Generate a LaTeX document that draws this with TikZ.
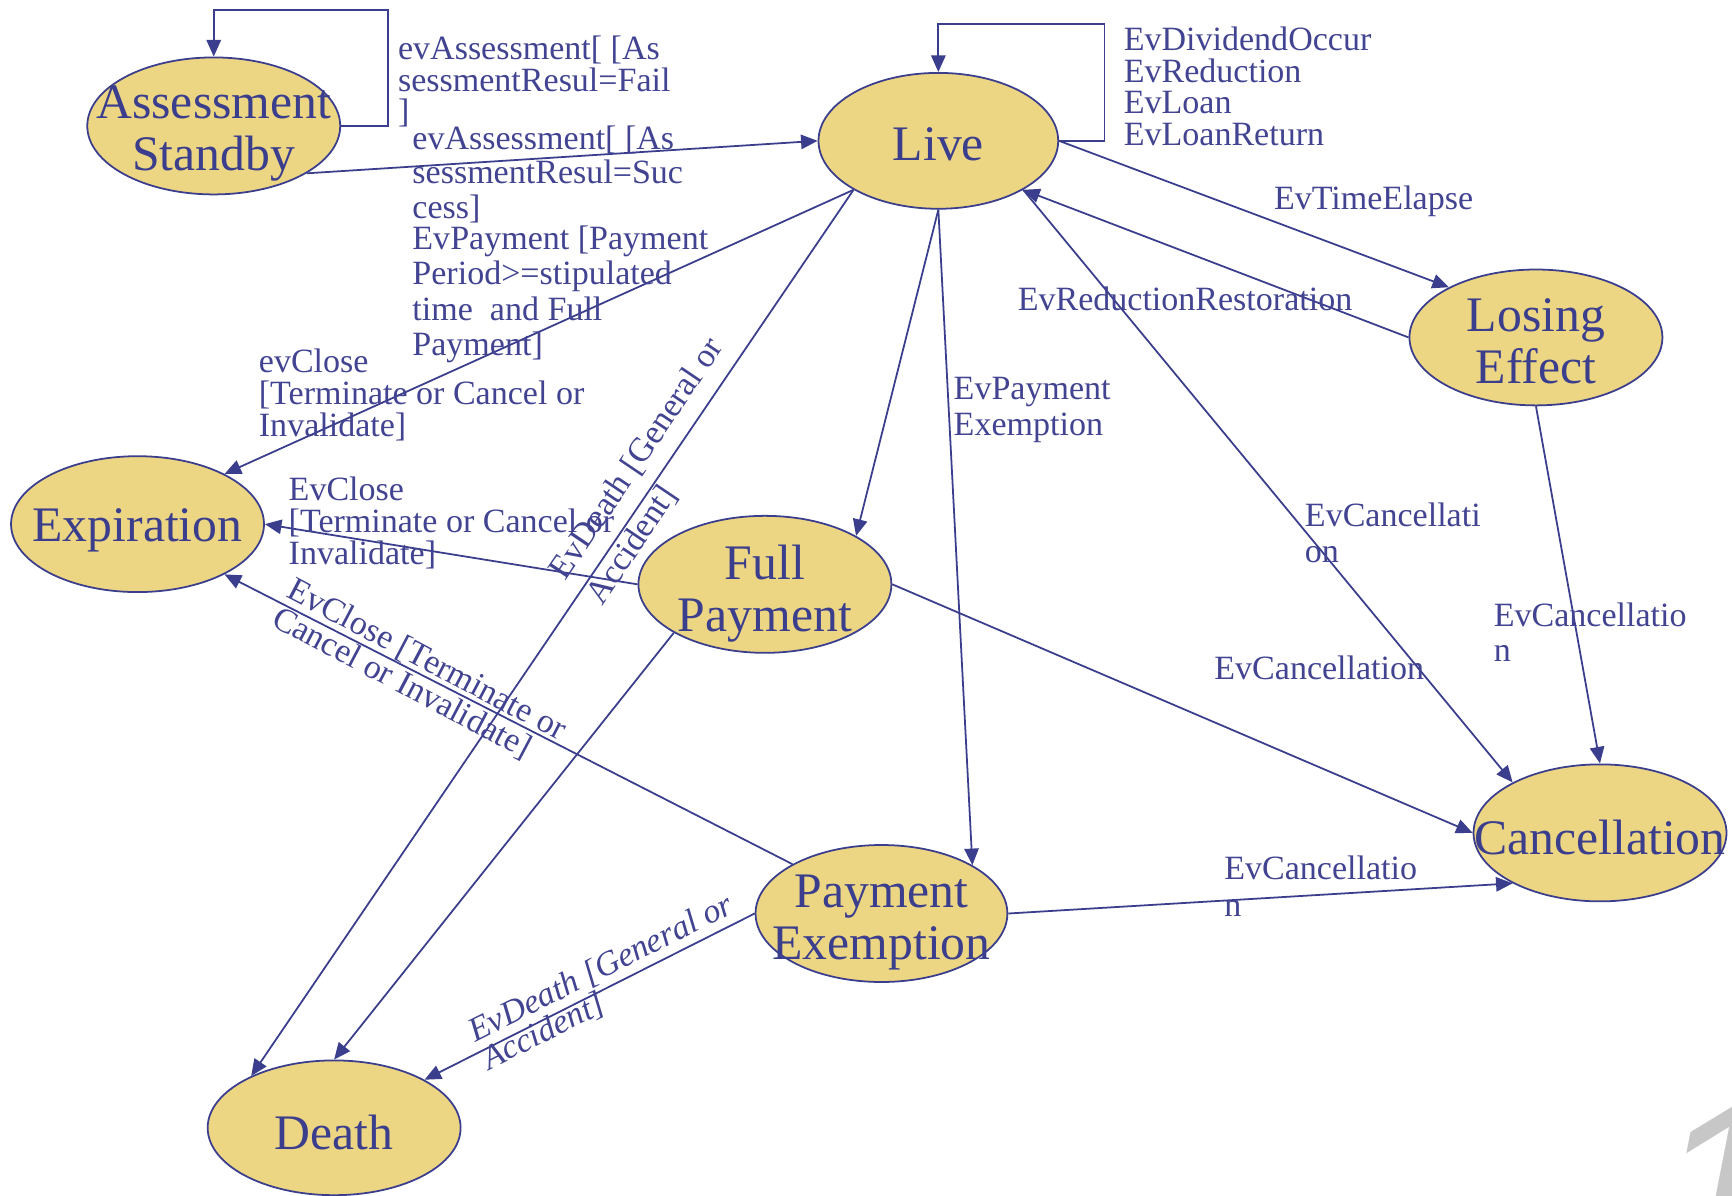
\documentclass[tikz,border=0pt]{standalone}
\usepackage{fontspec}
\setmainfont{Liberation Serif}
\setsansfont{Liberation Sans}
\usetikzlibrary{shapes.geometric,arrows.meta}
\definecolor{lc}{RGB}{58,62,140}
\definecolor{tc}{RGB}{66,68,146}
\definecolor{sf}{RGB}{236,214,131}
\newcommand{\mlab}[2][14.5pt]{\vtop{\baselineskip=#1\lineskiplimit=-20pt\halign{##\hfil\cr#2\crcr}}}
\tikzset{
  state/.style={ellipse, draw=lc, fill=sf, line width=0.8pt, inner sep=0pt},
  stext/.style={font=\fontsize{22.5}{23.5}\selectfont, text=lc, align=center, inner sep=0pt},
  lbl/.style={font=\fontsize{15.4}{14.5}\selectfont, text=tc, inner sep=0pt, anchor=base west},
  conn/.style={draw=lc, line width=0.8pt, -{Triangle[length=7.5pt,width=6.5pt]}}
}
\begin{document}
\begin{tikzpicture}[x=0.5pt,y=-0.5pt]
\useasboundingbox (0,0) rectangle (1568,1082);
\clip (0,0) rectangle (1568,1082);
\fill[white] (0,0) rectangle (1568,1082);

% states
\node[state, minimum width=114.5pt, minimum height=62pt] (AS) at (193.5,114) {};
\node[state, minimum width=108.5pt, minimum height=61.5pt] (LV) at (849.5,127.5) {};
\node[state, minimum width=114.5pt, minimum height=61.5pt] (LE) at (1390.5,305.5) {};
\node[state, minimum width=114.5pt, minimum height=61.5pt] (EX) at (124.5,474.5) {};
\node[state, minimum width=114.5pt, minimum height=62pt] (FP) at (692.5,529) {};
\node[state, minimum width=114.5pt, minimum height=62pt] (CA) at (1448.5,754) {};
\node[state, minimum width=114pt, minimum height=62pt] (PE) at (798,827) {};
\node[state, minimum width=114.5pt, minimum height=61pt] (DE) at (302.5,1021) {};

% connectors
\coordinate (ASloop) at (351,9);
\coordinate (LVloop) at (1000,22);
\draw[conn] (AS.east) -| (ASloop) -| (AS.north);
\draw[conn] (AS.-27.8) -- (LV.west);
\draw[conn] (LV.east) -| (LVloop) -| (LV.north);
\draw[conn] (LV.east) -- (LE.150);
\draw[conn] (LE.west) -- (LV.-30);
\draw[conn] (LV.-30) -- (CA.150);
\draw[conn] (LE.south) -- (CA.north);
\draw[conn] (LV.210) -- (EX.30);
\draw[conn] (LV.210) -- (DE.148);
\draw[conn] (LV.south) -- (FP.28);
\draw[conn] (LV.south) -- (PE.28.5);
\draw[conn] (FP.west) -- (EX.east);
\draw[conn] (FP.208) -- (DE.north);
\draw[conn] (FP.east) -- (CA.west);
\draw[conn] (PE.151.8) -- (EX.-30);
\draw[conn] (PE.west) -- (DE.28);
\draw[conn] (PE.east) -- (CA.210);

% state texts
\node[stext, yshift=-3.5pt] (AS-t) at (AS) {Assessment\\Standby};
\node[stext, yshift=-1.5pt] (LV-t) at (LV) {Live};
\node[stext, yshift=-1.8pt] (LE-t) at (LE) {Losing\\Effect};
\node[stext, yshift=-3pt] (EX-t) at (EX) {Expiration};
\node[stext, yshift=-4pt] (FP-t) at (FP) {Full\\Payment};
\node[stext, yshift=-2pt] (CA-t) at (CA) {Cancellation};
\node[stext, yshift=-4pt] (PE-t) at (PE) {Payment\\Exemption};
\node[stext, yshift=-2pt] (DE-t) at (DE) {Death};

% labels
\node[lbl] (l1) at (360,54) {\mlab[14.25pt]{evAssessment[ [As\cr sessmentResul=Fail\cr ]}};
\node[lbl] (l2) at (373,135) {\mlab[15.75pt]{evAssessment[ [As\cr sessmentResul=Suc\cr cess]}};
\node[lbl] (l3) at (373,226) {\mlab[16pt]{EvPayment [Payment\cr Period>=stipulated\cr time\ \ and Full\cr Payment]}};
\node[lbl] (l4) at (234,337) {\mlab{evClose\cr [Terminate or Cancel or\cr Invalidate]}};
\node[lbl] (l5) at (261,453) {\mlab{EvClose\cr [Terminate or Cancel or\cr Invalidate]}};
\node[lbl] (l6) at (1017,46) {\mlab[14.3pt]{EvDividendOccur\cr EvReduction\cr EvLoan\cr EvLoanReturn}};
\node[lbl] (l7) at (1153,190) {EvTimeElapse};
\node[lbl] (l8) at (921,281) {EvReductionRestoration};
\node[lbl] (l9) at (863,362) {\mlab[16pt]{EvPayment\cr Exemption}};
\node[lbl] (l10) at (1181,477) {\mlab[16pt]{EvCancellati\cr on}};
\node[lbl] (l11) at (1352,567) {\mlab[16pt]{EvCancellatio\cr n}};
\node[lbl] (l12) at (1099,615) {EvCancellation};
\node[lbl] (l13) at (1108,796) {\mlab[17pt]{EvCancellatio\cr n}};
\node[lbl, rotate=56] (l14) at (512,527) {\mlab[20pt]{EvDeath [General or\cr Accident]}};
\node[lbl, rotate=-27.8] (l15) at (258,540) {\mlab[14.5pt]{EvClose [Terminate or\cr Cancel or Invalidate]}};
\node[lbl, rotate=26.6, font=\fontsize{15.4}{14.5}\selectfont\itshape] (l16) at (430,944) {\mlab[14pt]{EvDeath [General or\cr Accident]}};

% page number
\node[anchor=north west, inner sep=0pt, text=black!22, font=\fontsize{110}{110}\sffamily\itshape] (pg) at (1496,1000) {1};
\end{tikzpicture}
\end{document}
